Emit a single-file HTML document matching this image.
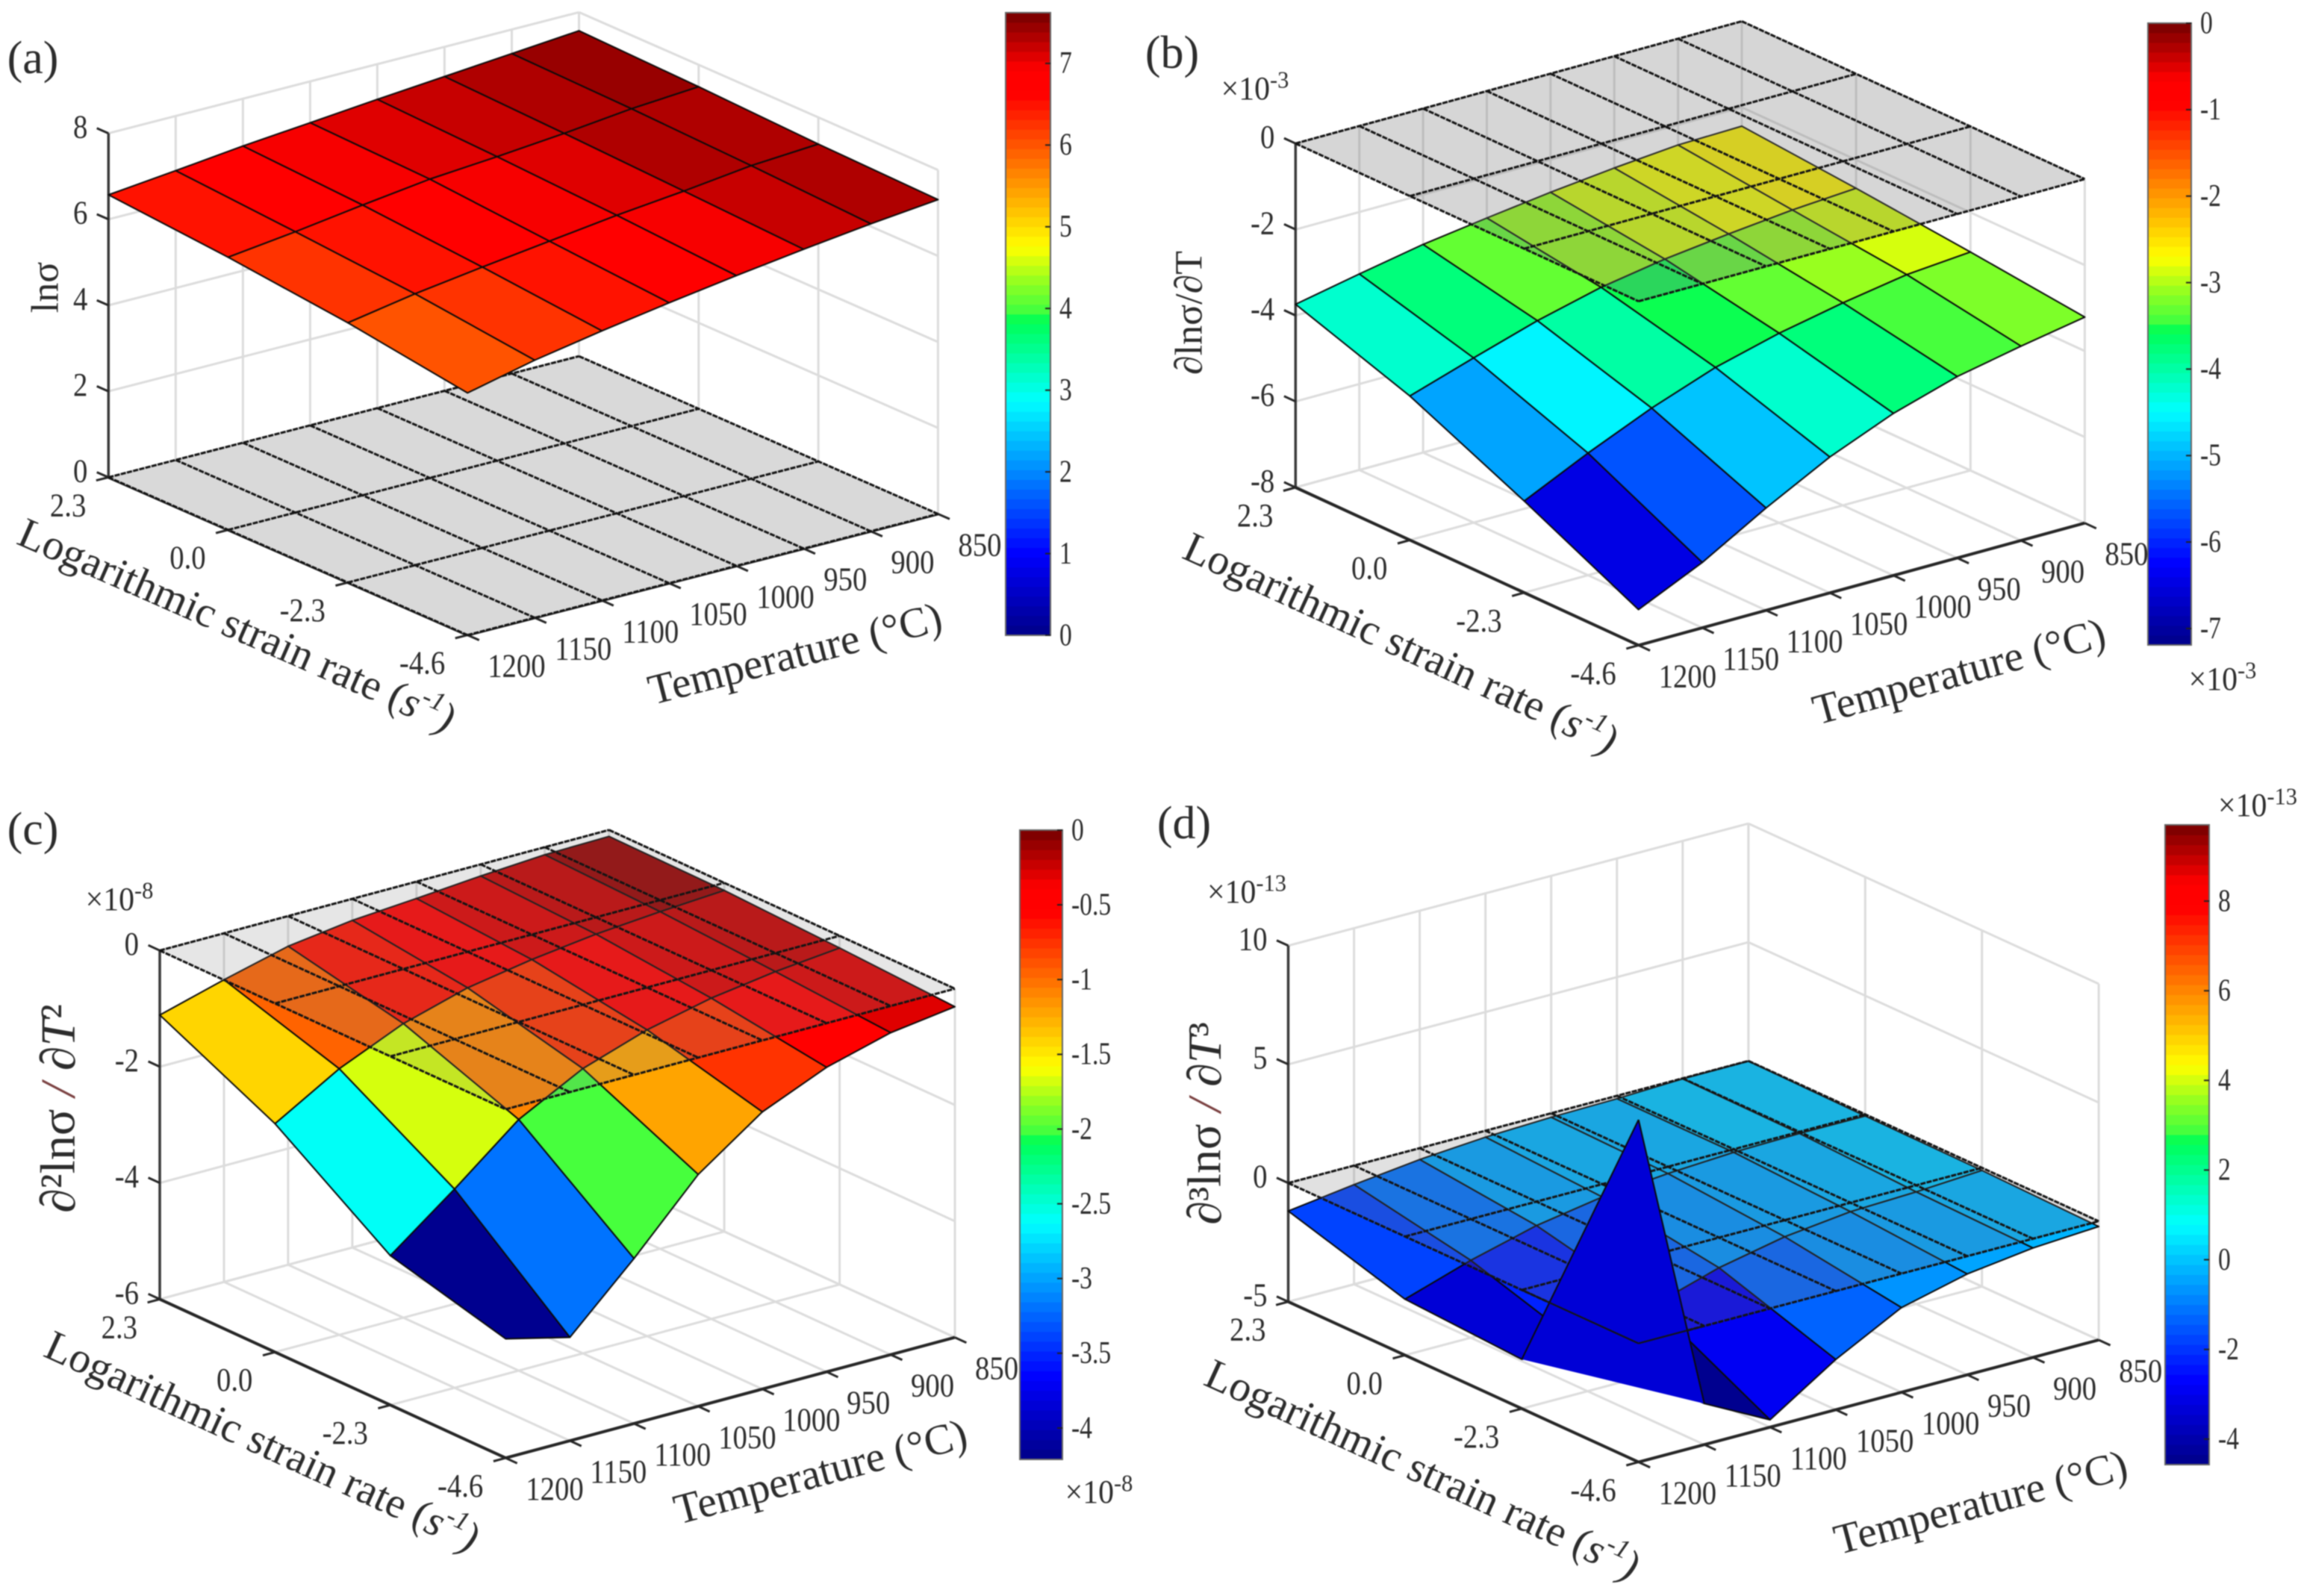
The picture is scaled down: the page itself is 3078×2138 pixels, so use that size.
<!DOCTYPE html>
<html lang="en">
<head>
<meta charset="utf-8">
<title>Surface plots of flow stress derivatives</title>
<style>
html,body{margin:0;padding:0;background:#fff;}
#figure{display:block;width:3078px;height:2138px;background:#fff;filter:blur(0.7px);}
text{font-family:"Liberation Serif","DejaVu Serif",serif;fill:#2c2c2c;}
</style>
</head>
<body>
<svg id="figure" xmlns="http://www.w3.org/2000/svg" width="3078" height="2138" viewBox="0 0 3078 2138"></svg>
<script>
// ---- Chart data ----
const temperatures = [1200, 1150, 1100, 1050, 1000, 950, 900, 850];
const strainRates = [2.3, 0.0, -2.3, -4.6];
const strainTickLabels = ['2.3', '0.0', '-2.3', '-4.6'];

const lnSigmaValues = [
  [6.57, 6.73, 6.90, 7.04, 7.18, 7.31, 7.44, 7.57],
  [6.34, 6.53, 6.75, 6.95, 7.07, 7.21, 7.38, 7.49],
  [6.04, 6.31, 6.53, 6.73, 6.93, 7.09, 7.28, 7.38],
  [5.63, 5.99, 6.27, 6.52, 6.75, 6.96, 7.15, 7.31]
];
const firstDerivativeValues = [
  [-3.74, -3.44, -3.16, -2.95, -2.76, -2.60, -2.47, -2.44],
  [-4.65, -4.17, -3.71, -3.34, -3.09, -2.91, -2.76, -2.66],
  [-5.87, -5.16, -4.52, -3.98, -3.59, -3.29, -3.04, -2.92],
  [-7.17, -6.48, -5.62, -4.84, -4.23, -3.78, -3.48, -3.21]
];
const secondDerivativeValues = [
  [-1.11, -0.80, -0.52, -0.37, -0.29, -0.20, -0.13, -0.11],
  [-2.07, -1.42, -0.94, -0.62, -0.43, -0.29, -0.20, -0.13],
  [-3.43, -2.58, -1.68, -1.10, -0.73, -0.48, -0.32, -0.21],
  [-3.95, -4.22, -3.16, -2.01, -1.23, -0.76, -0.46, -0.31]
];
const thirdDerivativeValues = [
  [-1.18, -0.80, -0.48, -0.27, -0.17, -0.12, -0.02, -0.01],
  [-2.64, -1.74, -1.01, -0.54, -0.29, -0.13, -0.07, -0.07],
  [-2.92, -3.27, -2.12, -1.27, -0.70, -0.38, -0.28, -0.11],
  [9.42, -3.27, -4.69, -2.88, -1.43, -0.75, -0.39, -0.22]
];

const zTicksA = [0, 2, 4, 6, 8];
const zTicksB = [0, -2, -4, -6, -8];
const zTicksC = [0, -2, -4, -6];
const zTicksD = [-5, 0, 5, 10];
const colorTicksA = [0, 1, 2, 3, 4, 5, 6, 7];
const colorTicksB = [0, -1, -2, -3, -4, -5, -6, -7];
const colorTicksC = [0, -0.5, -1, -1.5, -2, -2.5, -3, -3.5, -4];
const colorTicksD = [-4, -2, 0, 2, 4, 6, 8];

// ---- Rendering ----
const NS = 'http://www.w3.org/2000/svg';
const root = document.getElementById('figure');

function make(tag, parent, name) {
  const el = document.createElementNS(NS, tag);
  
  
  parent.appendChild(el);
  return el;
}

function line(parent, name, a, b, color, width, dash) {
  const el = make('line', parent, name);
  el.setAttribute('x1', a[0].toFixed(1));
  el.setAttribute('y1', a[1].toFixed(1));
  el.setAttribute('x2', b[0].toFixed(1));
  el.setAttribute('y2', b[1].toFixed(1));
  el.setAttribute('stroke', color);
  el.setAttribute('stroke-width', width);
  if (dash) el.setAttribute('stroke-dasharray', dash);
  return el;
}

function label(parent, name, x, y, content, size, anchor, rot, sx, weight) {
  const el = make('text', parent, name);
  el.setAttribute('text-anchor', anchor || 'middle');
  el.setAttribute('dominant-baseline', 'central');
  el.setAttribute('font-size', size);
  if (weight) el.setAttribute('fill', weight);
  el.setAttribute('transform', 'translate(' + x.toFixed(1) + ' ' + y.toFixed(1) + ') rotate(' + (rot || 0) + ') scale(' + (sx || 1) + ' 1)');
  el.innerHTML = content;
  return el;
}

const colorStops = [
  [0, 0, 0, 143], [0.125, 0, 0, 255], [0.375, 0, 255, 255], [0.505, 0, 255, 85],
  [0.525, 75, 255, 60], [0.565, 140, 255, 35], [0.625, 255, 255, 0],
  [0.875, 255, 0, 0], [0.915, 255, 0, 0], [1, 128, 0, 0]
];

function colormap(f) {
  const q = Math.min(63, Math.floor(Math.max(0, Math.min(1, f)) * 64)) / 63;
  for (let k = 1; k < colorStops.length; k++) {
    if (q <= colorStops[k][0]) {
      const a = colorStops[k - 1];
      const b = colorStops[k];
      const t = (q - a[0]) / (b[0] - a[0]);
      return 'rgb(' + [1, 2, 3].map(c => Math.round(a[c] + (b[c] - a[c]) * t)).join(',') + ')';
    }
  }
  return 'rgb(128,0,0)';
}

function isConvex(p) {
  let sign = 0;
  for (let k = 0; k < 4; k++) {
    const a = p[k], b = p[(k + 1) % 4], c = p[(k + 2) % 4];
    const cr = (b[0] - a[0]) * (c[1] - b[1]) - (b[1] - a[1]) * (c[0] - b[0]);
    if (cr !== 0) {
      if (sign !== 0 && Math.sign(cr) !== sign) return k;
      if (sign === 0) sign = Math.sign(cr);
    }
  }
  return -1;
}

function drawPanel(cfg) {
  const g = make('g', root, 'panel-' + cfg.key);
  const tScale = t => (temperatures[0] - t) / (temperatures[0] - temperatures[temperatures.length - 1]) * 7;
  const sScale = s => (strainRates[0] - s) / (strainRates[0] - strainRates[strainRates.length - 1]) * 3;
  const iv = [(cfg.R[0] - cfg.B[0]) / 7, (cfg.R[1] - cfg.B[1]) / 7];
  const jv = [(cfg.B[0] - cfg.L[0]) / 3, (cfg.B[1] - cfg.L[1]) / 3];
  const zMin = Math.min.apply(null, cfg.zTicks);
  const zMax = Math.max.apply(null, cfg.zTicks);
  const project = (t, s, z) => {
    const i = tScale(t), j = sScale(s);
    return [cfg.L[0] + i * iv[0] + j * jv[0],
            cfg.L[1] + i * iv[1] + j * jv[1] - (z - zMin) * cfg.zUnit];
  };
  const tLast = temperatures[temperatures.length - 1];
  const tFirst = temperatures[0];
  const sFirst = strainRates[0];
  const sLast = strainRates[strainRates.length - 1];

  // box grid
  const grid = make('g', g, 'grid-' + cfg.key);
  const gc = '#dcdcdc', gw = 3;
  temperatures.forEach(t => {
    line(grid, 'wall-gridline-temperature', project(t, sFirst, zMin), project(t, sFirst, zMax), gc, gw);
    line(grid, 'floor-gridline-temperature', project(t, sFirst, zMin), project(t, sLast, zMin), gc, gw);
  });
  strainRates.forEach(s => {
    line(grid, 'wall-gridline-strain', project(tLast, s, zMin), project(tLast, s, zMax), gc, gw);
    line(grid, 'floor-gridline-strain', project(tFirst, s, zMin), project(tLast, s, zMin), gc, gw);
  });
  cfg.zTicks.forEach(z => {
    line(grid, 'wall-gridline-z', project(tFirst, sFirst, z), project(tLast, sFirst, z), gc, gw);
    line(grid, 'wall-gridline-z', project(tLast, sFirst, z), project(tLast, sLast, z), gc, gw);
  });

  // axes
  const axes = make('g', g, 'axes-' + cfg.key);
  const ac = '#262626';
  line(axes, 'z-axis-line', project(tFirst, sFirst, zMin), project(tFirst, sFirst, zMax), '#3a3a3a', 3.5);
  line(axes, 'strain-axis-line', project(tFirst, sFirst, zMin), project(tFirst, sLast, zMin), ac, 4);
  line(axes, 'temperature-axis-line', project(tFirst, sLast, zMin), project(tLast, sLast, zMin), ac, 4);
  const iLen = Math.hypot(iv[0], iv[1]), jLen = Math.hypot(jv[0], jv[1]);
  const tickLen = 17;
  cfg.zTicks.forEach(z => {
    const p = project(tFirst, sFirst, z);
    line(axes, 'z-tick', p, [p[0] - jv[0] / jLen * tickLen, p[1] - jv[1] / jLen * tickLen], ac, 3);
    label(axes, 'z-tick-label', cfg.L[0] - 28, p[1] - 9, String(z), 44, 'end', 0, 0.88);
  });
  strainRates.forEach((s, k) => {
    const p = project(tFirst, s, zMin);
    line(axes, 'strain-tick', p, [p[0] - iv[0] / iLen * tickLen, p[1] - iv[1] / iLen * tickLen], ac, 3);
    label(axes, 'strain-tick-label', p[0] - 30, p[1] + 37, strainTickLabels[k], 44, 'end', 0, 0.88);
  });
  temperatures.forEach(t => {
    const p = project(t, sLast, zMin);
    line(axes, 'temperature-tick', p, [p[0] + jv[0] / jLen * tickLen, p[1] + jv[1] / jLen * tickLen], ac, 3);
    label(axes, 'temperature-tick-label', p[0] + 27, p[1] + 41, String(t), 44, 'start', 0, 0.88);
  });

  // grey z=0 reference plane
  function drawPlane() {
    const pg = make('g', g, 'zero-plane-' + cfg.key);
    const corners = [project(tFirst, sFirst, 0), project(tFirst, sLast, 0), project(tLast, sLast, 0), project(tLast, sFirst, 0)];
    const poly = make('polygon', pg, 'zero-plane-fill');
    poly.setAttribute('points', corners.map(c => c[0].toFixed(1) + ',' + c[1].toFixed(1)).join(' '));
    poly.setAttribute('fill', cfg.planeColor);
    poly.setAttribute('fill-opacity', cfg.planeAlpha);
    temperatures.forEach(t => line(pg, 'zero-plane-line', project(t, sFirst, 0), project(t, sLast, 0), '#141414', 3, '7 1.5'));
    strainRates.forEach(s => line(pg, 'zero-plane-line', project(tFirst, s, 0), project(tLast, s, 0), '#141414', 3, '7 1.5'));
  }

  // surface cells
  const cells = [];
  for (let j = 0; j < 3; j++) {
    for (let i = 6; i >= 0; i--) {
      const vals = [cfg.values[j][i], cfg.values[j][i + 1], cfg.values[j + 1][i + 1], cfg.values[j + 1][i]];
      cells.push({
        pts: [project(temperatures[i], strainRates[j], vals[0]),
              project(temperatures[i + 1], strainRates[j], vals[1]),
              project(temperatures[i + 1], strainRates[j + 1], vals[2]),
              project(temperatures[i], strainRates[j + 1], vals[3])],
        color: colormap((cfg.values[j + 1][i + 1] - cfg.cMin) / (cfg.cMax - cfg.cMin)),
        above: Math.max.apply(null, vals) > 0,
        i: i, j: j
      });
    }
  }
  const surf = make('g', g, 'surface-' + cfg.key);
  function drawCell(parent, c) {
    const bad = isConvex(c.pts);
    const poly = make('polygon', parent, 'surface-cell');
    const pointStr = arr => arr.map(p => p[0].toFixed(1) + ',' + p[1].toFixed(1)).join(' ');
    poly.setAttribute('fill', c.color);
    if (bad < 0) {
      poly.setAttribute('points', pointStr(c.pts));
      poly.setAttribute('stroke', '#0a0a0a');
      poly.setAttribute('stroke-width', 2);
      poly.setAttribute('stroke-linejoin', 'round');
    } else {
      // non-convex quad: filled as its hull, the same way the renderer triangulates it
      const concave = [0, 1, 2, 3].find(k => {
        const others = c.pts.filter((_, m) => m !== k);
        const p = c.pts[k];
        const area = (a, b, q) => (b[0] - a[0]) * (q[1] - a[1]) - (b[1] - a[1]) * (q[0] - a[0]);
        const s1 = area(others[0], others[1], p), s2 = area(others[1], others[2], p), s3 = area(others[2], others[0], p);
        return (s1 >= 0 && s2 >= 0 && s3 >= 0) || (s1 <= 0 && s2 <= 0 && s3 <= 0);
      });
      const idx = concave === undefined ? 0 : concave;
      const a = c.pts[(idx + 1) % 4], b = c.pts[(idx + 2) % 4], d = c.pts[(idx + 3) % 4];
      poly.setAttribute('points', pointStr([a, b, d]));
      line(parent, 'surface-cell-edge', a, b, '#0a0a0a', 2);
      line(parent, 'surface-cell-edge', b, d, '#0a0a0a', 2);
    }
  }
  cells.filter(c => !c.above).forEach(c => drawCell(surf, c));
  drawPlane();
  const surfTop = make('g', g, 'surface-above-plane-' + cfg.key);
  cells.filter(c => c.above).forEach(c => drawCell(surfTop, c));
  cells.filter(c => c.above && cfg.values.flat().some(v => v <= 0)).forEach(c => {
    line(surfTop, 'zero-plane-line', project(temperatures[c.i], strainRates[c.j], 0), project(temperatures[c.i], strainRates[c.j + 1], 0), '#141414', 2.2);
    line(surfTop, 'zero-plane-line', project(temperatures[c.i], strainRates[c.j + 1], 0), project(temperatures[c.i + 1], strainRates[c.j + 1], 0), '#141414', 2.2);
  });

  // text labels
  label(g, 'panel-label-' + cfg.key, cfg.tag[0], cfg.tag[1], '(' + cfg.key + ')', 62, 'middle', 0, 1);
  label(g, 'z-axis-title', cfg.zTitle[0], cfg.zTitle[1], cfg.zTitleText, cfg.zTitleSize, 'middle', -90, 1, '#111');
  const strainAngle = Math.atan2(jv[1], jv[0]) * 180 / Math.PI;
  const tempAngle = Math.atan2(iv[1], iv[0]) * 180 / Math.PI;
  label(g, 'strain-axis-title', cfg.sTitle[0] + 3, cfg.sTitle[1],
    'Logarithmic strain rate (<tspan font-style="italic">s</tspan><tspan font-style="italic" font-size="36" dy="-16">-1</tspan><tspan font-style="italic" dy="16">)</tspan>',
    57.5, 'middle', strainAngle.toFixed(2), 1, '#111');
  label(g, 'temperature-axis-title', cfg.tTitle[0], cfg.tTitle[1], 'Temperature (°C)', 57.5, 'middle', tempAngle.toFixed(2), 1, '#111');
  if (cfg.multiplier) {
    label(g, 'z-axis-multiplier', cfg.multPos[0], cfg.multPos[1],
      '×10<tspan font-size="32" dy="-13">' + cfg.multiplier + '</tspan>', 44, 'middle', 0, 0.95);
  }

  // colorbar
  const cb = make('g', g, 'colorbar-' + cfg.key);
  const cy = v => cfg.cb.y2 - (v - cfg.cMin) / (cfg.cMax - cfg.cMin) * (cfg.cb.y2 - cfg.cb.y1);
  const h = (cfg.cb.y2 - cfg.cb.y1) / 64;
  for (let k = 0; k < 64; k++) {
    const r = make('rect', cb, 'colorbar-band');
    r.setAttribute('x', cfg.cb.x1);
    r.setAttribute('y', (cfg.cb.y2 - (k + 1) * h - 0.4).toFixed(1));
    r.setAttribute('width', cfg.cb.x2 - cfg.cb.x1);
    r.setAttribute('height', (h + 0.8).toFixed(1));
    r.setAttribute('fill', colormap((k + 0.5) / 64));
  }
  const frame = make('rect', cb, 'colorbar-frame');
  frame.setAttribute('x', cfg.cb.x1);
  frame.setAttribute('y', cfg.cb.y1);
  frame.setAttribute('width', cfg.cb.x2 - cfg.cb.x1);
  frame.setAttribute('height', cfg.cb.y2 - cfg.cb.y1);
  frame.setAttribute('fill', 'none');
  frame.setAttribute('stroke', '#666');
  frame.setAttribute('stroke-width', 2);
  cfg.colorTicks.forEach(v => {
    line(cb, 'colorbar-tick', [cfg.cb.x2 - 7, cy(v)], [cfg.cb.x2, cy(v)], '#222', 2);
    label(cb, 'colorbar-tick-label', cfg.cb.x2 + 12, cy(v), String(v), 42, 'start', 0, 0.8);
  });
  if (cfg.multiplier) {
    label(cb, 'colorbar-multiplier', cfg.cbMult[0], cfg.cbMult[1],
      '×10<tspan font-size="32" dy="-13">' + cfg.multiplier + '</tspan>', 44, 'middle', 0, 0.95);
  }
}

const slash = '<tspan fill="#7a4040" font-style="italic"> / </tspan>';

drawPanel({
  key: 'a', L: [145.3, 639.4], B: [626.2, 850.7], R: [1256.4, 688.5], zUnit: 57.6,
  zTicks: zTicksA, values: lnSigmaValues, cMin: 0, cMax: 7.62, colorTicks: colorTicksA,
  cb: { x1: 1347, x2: 1407, y1: 17, y2: 851 },
  planeColor: '#d9d9d9', planeAlpha: 1,
  tag: [44, 78], zTitle: [61, 385], zTitleText: 'lnσ', zTitleSize: 52,
  sTitle: [314, 838], tTitle: [1065, 876]
});
drawPanel({
  key: 'b', L: [1735.3, 653], B: [2194.7, 864.4], R: [2792.4, 700.7], zUnit: 57.6,
  zTicks: zTicksB, values: firstDerivativeValues, cMin: -7.19, cMax: 0, colorTicks: colorTicksB,
  cb: { x1: 2877, x2: 2935, y1: 31, y2: 864 },
  planeColor: '#787878', planeAlpha: 0.3,
  tag: [1570, 71], zTitle: [1593, 419], zTitleText: '∂lnσ/∂T', zTitleSize: 52,
  sTitle: [1873, 862], tTitle: [2624, 900],
  multiplier: '-3', multPos: [1681, 119], cbMult: [2977, 910]
});
drawPanel({
  key: 'c', L: [214, 1740.4], B: [677.3, 1953.1], R: [1279, 1791.6], zUnit: 77.85,
  zTicks: zTicksC, values: secondDerivativeValues, cMin: -4.21, cMax: 0, colorTicks: colorTicksC,
  cb: { x1: 1366, x2: 1423, y1: 1112, y2: 1955 },
  planeColor: '#828282', planeAlpha: 0.2,
  tag: [44, 1111], zTitle: [78, 1485],
  zTitleText: '<tspan font-style="italic">∂</tspan>²lnσ' + slash + '<tspan font-style="italic">∂T</tspan>²', zTitleSize: 66,
  sTitle: [348, 1931], tTitle: [1099, 1972],
  multiplier: '-8', multPos: [160, 1205], cbMult: [1472, 1999]
});
drawPanel({
  key: 'd', L: [1725.5, 1743.8], B: [2194.7, 1958.6], R: [2811.1, 1795], zUnit: 31.8,
  zTicks: zTicksD, values: thirdDerivativeValues, cMin: -4.57, cMax: 9.7, colorTicks: colorTicksD,
  cb: { x1: 2900, x2: 2959, y1: 1105, y2: 1962 },
  planeColor: '#787878', planeAlpha: 0.22,
  tag: [1586, 1103], zTitle: [1613, 1505],
  zTitleText: '<tspan font-style="italic">∂</tspan>³lnσ' + slash + '<tspan font-style="italic">∂T</tspan>³', zTitleSize: 64,
  sTitle: [1902, 1969], tTitle: [2653, 2013],
  multiplier: '-13', multPos: [1670, 1195], cbMult: [3024, 1079]
});
</script>
</body>
</html>
